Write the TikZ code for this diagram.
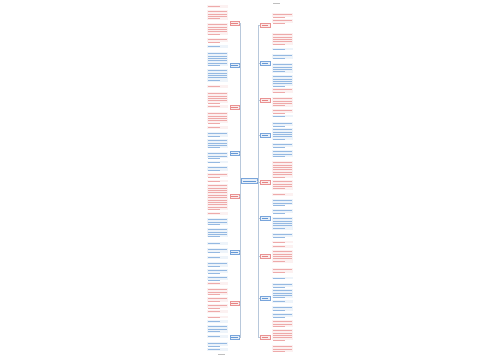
\documentclass[tikz,border=0pt]{standalone}
\usepackage{tikz}

\definecolor{mmred}{HTML}{E06464}
\definecolor{mmblue}{HTML}{3F7FCB}
\definecolor{mmlink}{HTML}{B8C8DB}

% one block of unreadable text: x left, y top, y bottom, colour
\newcommand\txtblk[4]{%
  \fill[#4!9] (#1,#2) rectangle (#1+21,#3);
  \pgfmathtruncatemacro\nlines{max(1,round((#3-#2)/2.4))}
  \foreach \k in {1,...,\nlines}{
    \draw[#4!55, line width=0.55pt]
      (#1+1,{#2+2.4*\k-1.0}) -- ++({ifthenelse(\k==\nlines,12,19)},0);}
}

\begin{document}
\begin{tikzpicture}[x=1pt, y=-1pt,
    branch/.style = {draw=#1!70, fill=#1!12, line width=0.35pt, inner sep=0pt,
                     minimum width=9.5pt, minimum height=4pt,
                     path picture={\draw[#1!80, line width=0.7pt]
                       ([xshift=1.5pt]path picture bounding box.west) --
                       ([xshift=-1.5pt]path picture bounding box.east);}},
    link/.style = {draw=mmlink, line width=0.45pt}]
  \useasboundingbox[fill=white] (0,0) rectangle (500,360);

  \node[branch=mmblue, minimum width=16pt, minimum height=5pt] (hub) at (249,181) {};

  % left side
  \foreach \n/\y/\c in {1/23/mmred, 2/65/mmblue, 3/107/mmred, 4/153/mmblue,
                        5/196/mmred, 6/252/mmblue, 7/303/mmred, 8/337/mmblue}
    \node[branch=\c] (L\n) at (234.5,\y) {};
  \foreach \n in {1,...,8}
    \draw[link] (hub.west) -- ++(-1,0) |- (L\n.east);

  % right side
  \foreach \n/\y/\c in {1/25/mmred, 2/63/mmblue, 3/100/mmred, 4/135/mmblue,
                        5/182/mmred, 6/218/mmblue, 7/256/mmred, 8/298/mmblue,
                        9/337/mmred}
    \node[branch=\c] (R\n) at (265,\y) {};
  \foreach \n in {1,...,9}
    \draw[link] (hub.east) -- ++(1,0) |- (R\n.west);

  % text blocks, left column
  \foreach \a/\b in {5/8, 10/20, 23/35, 38/42, 85/88, 92/103, 105/108,
                     112/123, 126/129, 173/177, 180/182, 184/210, 212/215,
                     282/285, 288/295, 297/302, 304/308, 310/313, 316/318}
    \txtblk{207}{\a}{\b}{mmred};
  \foreach \a/\b in {45/48, 52/66, 69/82, 132/137, 139/148, 152/158, 161/163,
                     166/171, 218/225, 228/237, 242/245, 248/253, 256/259,
                     262/267, 269/273, 276/280, 320/323, 325/333, 335/338,
                     342/346, 348/351}
    \txtblk{207}{\a}{\b}{mmblue};
  \draw[gray!50, line width=0.6pt] (218,354) -- (225,354);

  % text blocks, right column
  \draw[gray!50, line width=0.6pt] (273,3.5) -- (280,3.5);
  \foreach \a/\b in {13/17, 19/23, 33/45, 88/93, 97/107, 109/113, 161/178,
                     180/190, 193/196, 241/243, 245/248, 250/263, 268/273,
                     320/327, 329/340, 345/352}
    \txtblk{272}{\a}{\b}{mmred};
  \foreach \a/\b in {48/50, 54/59, 63/73, 75/86, 115/117, 122/126, 128/140,
                     143/147, 150/157, 199/205, 209/213, 217/230, 233/237,
                     277/279, 283/287, 289/298, 300/303, 306/311, 313/317}
    \txtblk{272}{\a}{\b}{mmblue};
\end{tikzpicture}
\end{document}
